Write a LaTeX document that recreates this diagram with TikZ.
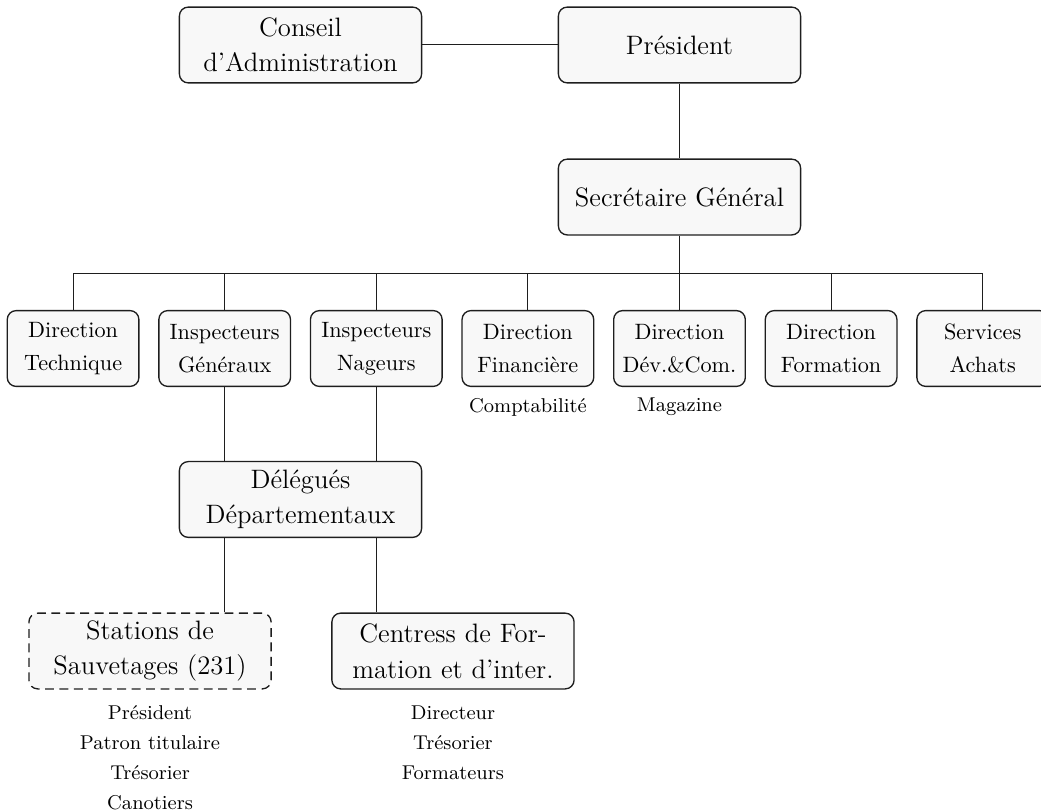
\documentclass[tikz,border=0pt]{standalone}
\usepackage{xcolor}
\usepackage{tikz}
\definecolor{boxfill}{RGB}{248, 248, 248}
\definecolor{primary}{RGB}{30, 30, 30}

\begin{document}
\begin{tikzpicture}[
  box/.style={draw=primary,semithick,fill=boxfill,rounded corners=4pt,align=center,minimum height=1.2cm},
  bigbox/.style={box,text width=3.6cm,font=\fontsize{12}{16}\selectfont},
  rowbox/.style={box,text width=1.85cm,font=\fontsize{10}{15}\selectfont},
  sub/.style={align=center,font=\fontsize{9}{13.5}\selectfont},
  link/.style={draw=primary,line width=0.45pt}
]
\useasboundingbox (0,0) rectangle (16.48,-12.854);
% top
\node[bigbox] (ca) at (4.757,-0.712) {Conseil d'Administration};
\node[bigbox] (pres) at (10.757,-0.712) {Président};
\node[bigbox] (sg) at (10.757,-3.119) {Secrétaire Général};
\coordinate (bus) at (10.757,-4.322);
% directions
\node[rowbox] (dt) at (1.157,-5.517) {Direction Technique};
\node[rowbox] (ig) at (3.557,-5.517) {Inspecteurs Généraux};
\node[rowbox] (inag) at (5.957,-5.517) {Inspecteurs Nageurs};
\node[rowbox] (dfin) at (8.357,-5.517) {Direction Financière};
\node[rowbox] (ddc) at (10.757,-5.517) {Direction Dév.\&Com.};
\node[rowbox] (dfor) at (13.157,-5.517) {Direction Formation};
\node[rowbox] (sach) at (15.557,-5.517) {Services Achats};
\node[sub] (compta) at (8.357,-6.443) {Comptabilité};
\node[sub] (mag) at (10.757,-6.443) {Magazine};
% terrain
\node[bigbox] (del) at (4.757,-7.907) {Délégués\\Départementaux};
\node[bigbox,dash pattern=on 4pt off 2.5pt] (st) at (2.375,-10.306) {Stations de Sauvetages (231)};
\node[bigbox] (cf) at (7.171,-10.306) {Centress de Formation et d'inter.};
\node[sub] (stlist) at (2.375,-11.99) {Président\\Patron titulaire\\Trésorier\\Canotiers};
\node[sub] (cflist) at (7.171,-11.762) {Directeur\\Trésorier\\Formateurs};
% links
\draw[link] (ca) -- (pres);
\draw[link] (pres) -- (sg);
\draw[link] (sg.south) -- (bus);
\draw[link] (bus -| dt) -- (bus -| sach);
\foreach \n in {dt,ig,inag,dfin,ddc,dfor,sach}
  \draw[link] (bus -| \n) -- (\n.north);
\draw[link] (ig.south) -- (ig.south |- del.north);
\draw[link] (inag.south) -- (inag.south |- del.north);
\draw[link] (ig.south |- del.south) -- (ig.south |- st.north);
\draw[link] (inag.south |- del.south) -- (inag.south |- cf.north);
\end{tikzpicture}
\end{document}
